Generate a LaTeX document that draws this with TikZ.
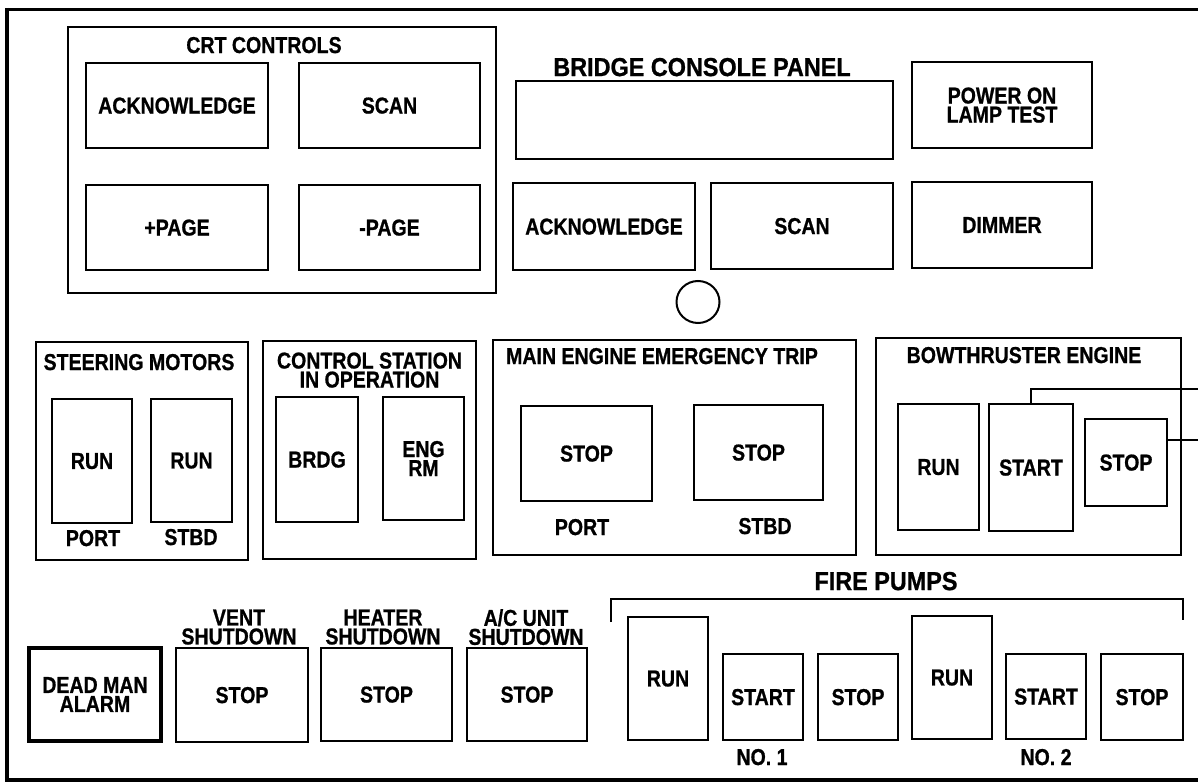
\documentclass[tikz,border=0pt]{standalone}
\usepackage{fontspec}
\setmainfont{Liberation Sans}[FakeStretch=0.85, BoldFeatures={FakeBold=0.8}]
\newfontfamily\titlefont{Liberation Sans Bold}[FakeStretch=0.9, FakeBold=0.8]
\usetikzlibrary{shapes.geometric}
\tikzset{
  txt/.style={font=\fontsize{23}{19}\selectfont\bfseries, text depth=0pt},
  rect/.style args={#1/#2/#3/#4}{minimum width={#3-#1}, minimum height={#4-#2}, at={({(#1+#3)/2},{(#2+#4)/2})}},
  panel/.style={draw, line width=2pt, inner sep=0pt, txt},
  btn/.style={panel},
  thickbtn/.style={panel, line width=3.2pt},
  lbl/.style={inner sep=0pt, txt},
  two/.style={align=center},
  bigtitle/.style={inner sep=0pt, font=\fontsize{26}{20}\titlefont, text depth=0pt},
  wire/.style={line width=2pt}
}
\begin{document}
\begin{tikzpicture}[x=1pt,y=-1pt]
\useasboundingbox (0,0) rectangle (1198,783);
\fill[white] (0,0) rectangle (1198,783);
% outer frame (open to the right)
\draw[line width=3.2pt] (1215,9.5) -- (7,9.5) -- (7,780) -- (1215,780);
\draw[line width=4.5pt] (7,8) -- (7,781);

% CRT controls
\node[panel, rect=68/27/496/293] (crt) {};
\node[lbl] (crtt) at (264,45) {CRT CONTROLS};
\node[btn, rect=86/63/268/148] (crtack) {ACKNOWLEDGE};
\node[btn, rect=299/63/480/148] (crtscan) {SCAN};
\node[btn, rect=86/185/268/270] (crtpp) {+PAGE};
\node[btn, rect=299/185/480/270] (crtmp) {-PAGE};

% Bridge console panel
\node[bigtitle] (bct) at (702,67) {BRIDGE CONSOLE PANEL};
\node[btn, rect=516/81/893/159] (bdisp) {};
\node[btn, two, rect=912/62/1092/148] (bpow) {POWER ON\\LAMP TEST};
\node[btn, rect=513/183/695/270] (back) {ACKNOWLEDGE};
\node[btn, rect=711/183/893/269] (bscan) {SCAN};
\node[btn, rect=912/182/1092/268] (bdim) {DIMMER};
\node[draw, line width=2pt, ellipse, minimum width=43pt, minimum height=42pt, inner sep=0pt] (lamp) at (698,302) {};

% Steering motors
\node[panel, rect=36/342/248/560] (steer) {};
\node[lbl] (steert) at (139,362) {STEERING MOTORS};
\node[btn, rect=52/399/132/523] (srun1) {RUN};
\node[btn, rect=151/399/232/522] (srun2) {RUN};
\node[lbl] (sport) at (93,538) {PORT};
\node[lbl] (sstbd) at (191,537) {STBD};

% Control station
\node[panel, rect=263/341/476/559] (cs) {};
\node[lbl, two] (cst) at (369.5,370) {CONTROL STATION\\IN OPERATION};
\node[btn, rect=276/397/358/522] (brdg) {BRDG};
\node[btn, two, rect=383/397/464/520] (engrm) {ENG\\RM};

% Main engine emergency trip
\node[panel, rect=493/340/856/555] (me) {};
\node[lbl] (met) at (662,356) {MAIN ENGINE EMERGENCY TRIP};
\node[btn, rect=521/406/652/501] (mestop1) {STOP};
\node[btn, rect=694/405/823/500] (mestop2) {STOP};
\node[lbl] (meport) at (582,527) {PORT};
\node[lbl] (mestbd) at (765,526) {STBD};

% Bowthruster engine
\node[panel, rect=876/338/1181/555] (bt) {};
\node[lbl] (btt) at (1024,355) {BOWTHRUSTER ENGINE};
\node[btn, rect=898/404/979/530] (btrun) {RUN};
\node[btn, rect=989/404/1073/531] (btstart) {START};
\node[btn, rect=1085/419/1167/506] (btstop) {STOP};
\coordinate (e1) at (1210,389);
\coordinate (e2) at (1210,440);
\draw[wire] (btstart.north) |- (e1);
\draw[wire] (btstop.east |- e2) -- (e2);

% Fire pumps
\node[bigtitle] (fpt) at (886,581) {FIRE PUMPS};
\coordinate (fpl) at (611,622);
\coordinate (fpr) at (1183,620);
\draw[wire] (fpl) -- (611,599) -- (1183,599) -- (fpr);
\node[btn, rect=628/617/708/740] (p1run) {RUN};
\node[btn, rect=723/654/803/740] (p1start) {START};
\node[btn, rect=818/654/898/740] (p1stop) {STOP};
\node[btn, rect=912/616/992/739] (p2run) {RUN};
\node[btn, rect=1006/654/1086/739] (p2start) {START};
\node[btn, rect=1101/654/1183/740] (p2stop) {STOP};
\node[lbl] (no1) at (762,757) {NO. 1};
\node[lbl] (no2) at (1046,757) {NO. 2};

% Bottom left
\node[thickbtn, two, rect=29/648/161/741] (dead) {DEAD MAN\\ALARM};
\node[btn, rect=176/648/308/742] (vent) {STOP};
\node[lbl, two] (ventl) at (239,627) {VENT\\SHUTDOWN};
\node[btn, rect=321/648/452/741] (heat) {STOP};
\node[lbl, two] (heatl) at (383,627) {HEATER\\SHUTDOWN};
\node[btn, rect=467/648/587/741] (acu) {STOP};
\node[lbl, two] (acl) at (526,627) {A/C UNIT\\SHUTDOWN};
\end{tikzpicture}
\end{document}
